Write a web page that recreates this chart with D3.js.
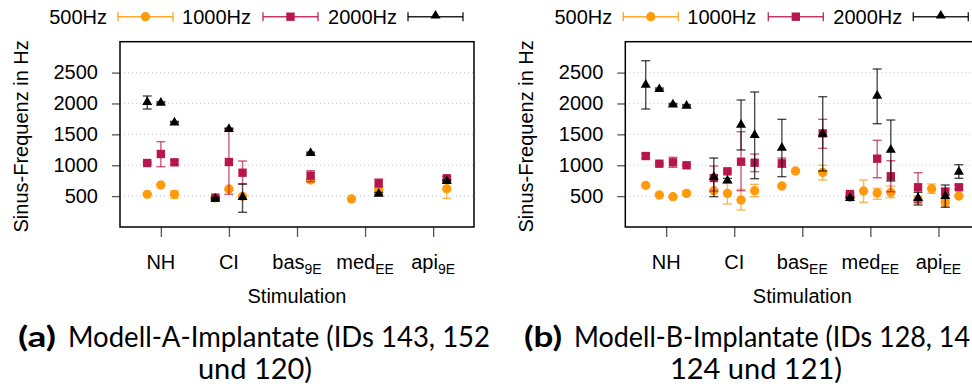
<!DOCTYPE html>
<html>
<head>
<meta charset="utf-8">
<script src="https://cdn.jsdelivr.net/npm/d3@7"></script>
<style>
  body { margin: 0; background: #fff; }
  svg { display: block; font-family: "Liberation Sans", Arial, sans-serif; }
</style>
</head>
<body>
<svg id="chart" width="972" height="390"></svg>
<script>
// values: [mean, lower, upper] per category, per implant (null = no data)
const catsA = [["NH", ""], ["CI", ""], ["bas", "9E"], ["med", "EE"], ["api", "9E"]];
const catsB = [["NH", ""], ["CI", ""], ["bas", "EE"], ["med", "EE"], ["api", "EE"]];
const yTicks = [500, 1000, 1500, 2000, 2500];
const seriesNames = ["500Hz", "1000Hz", "2000Hz"];
const seriesColors = ["#ff9a0a", "#b8154a", "#000000"];

const a500 = [
  [[529, 512, 546], [680, 666, 694], [529, 465, 583]],
  [[470, 458, 482], [615, 602, 628], [497, 482, 512]],
  [null, null, [760, 742, 778]],
  [[453, 441, 465], null, [595, 560, 630]],
  [null, null, [620, 465, 707]]
];
const a1000 = [
  [[1036, 1018, 1054], [1182, 976, 1381], [1047, 1010, 1085]],
  [[475, 458, 492], [1052, 529, 1592], [879, 696, 1068]],
  [null, null, [831, 734, 912]],
  [null, null, [707, 652, 777]],
  [null, null, [788, 765, 812]]
];
const a2000 = [
  [[2030, 1910, 2121], [2019, 2008, 2030], [1700, 1690, 1710]],
  [[465, 452, 478], [1592, 1582, 1602], [491, 238, 696]],
  [null, null, [1203, 1193, 1213]],
  [null, null, [545, 530, 560]],
  [null, null, [750, 738, 762]]
];

const b500 = [
  [[675, 662, 688], [518, 506, 530], [491, 479, 503], [545, 515, 575]],
  [[588, 560, 615], [545, 372, 707], [437, 275, 610], [588, 491, 691]],
  [[664, 640, 690], [907, 895, 919], null, [885, 761, 999]],
  [[480, 470, 490], [583, 400, 761], [550, 448, 626], [561, 475, 664]],
  [[440, 380, 500], [620, 545, 696], [400, 340, 448], [502, 490, 515]]
];
const b1000 = [
  [[1149, 1110, 1190], [1025, 1008, 1042], [1047, 966, 1128], [999, 982, 1016]],
  [[793, 583, 987], [901, 882, 920], [1057, 588, 1543], [1041, 896, 1182]],
  [[1031, 966, 1117], null, null, [1516, 1274, 1743]],
  [[534, 517, 551], null, [1106, 798, 1404], [821, 571, 1073]],
  [[643, 400, 879], null, [572, 520, 625], [643, 610, 680]]
];
const b2000 = [
  [[2310, 1910, 2692], [2239, 2228, 2250], [1991, 1980, 2002], [1970, 1959, 1981]],
  [[815, 491, 1117], [761, 728, 787], [1662, 1247, 2056], [1495, 782, 2186]],
  [[1290, 815, 1743], null, null, [1516, 907, 2110]],
  [[475, 465, 485], null, [2132, 1672, 2558], [1258, 745, 1732]],
  [[475, 356, 561], null, [507, 319, 680], [900, 788, 1009]]
];

const panels = [
  {x0: 120, cats: catsA, series: [a500, a1000, a2000], nImp: 3,
   cap1: "Modell-A-Implantate (IDs 143, 152", cap1b: "(a)", cap2: "und 120)", capX: 18, capW: 472, cap2X: 255},
  {x0: 625.3, cats: catsB, series: [b500, b1000, b2000], nImp: 4,
   cap1: "Modell-B-Implantate (IDs 128, 14", cap1b: "(b)", cap2: "124 und 121)", capX: 524, capW: 446, cap2X: 756}
];

const svg = d3.select("#chart");
const W = 354, yTop = 41.7, yBottom = 227;
const symbols = [d3.symbolCircle, d3.symbolSquare, d3.symbolTriangle];
const symSizes = [68, 70, 44];
const baseFont = "'Liberation Sans', Arial, sans-serif";

panels.forEach(p => {
  const g = svg.append("g");
  const x = d3.scaleLinear().domain([0.4, 5.6]).range([p.x0, p.x0 + W]);
  const y = d3.scaleLinear().domain([0, 3000]).range([yBottom, yTop]);

  // grid
  g.append("g").selectAll("line").data(yTicks).enter().append("line")
    .attr("x1", p.x0).attr("x2", p.x0 + W)
    .attr("y1", d => y(d)).attr("y2", d => y(d))
    .attr("stroke", "#c8c8c8").attr("stroke-width", 1)
    .attr("stroke-dasharray", "1,3");

  // axes
  const ya = g.append("g").attr("transform", `translate(${p.x0},0)`)
    .call(d3.axisLeft(y).tickValues(yTicks).tickSize(8).tickPadding(14).tickFormat(d3.format("d")));
  ya.select(".domain").remove();
  ya.selectAll(".tick line").attr("stroke", "#555").attr("stroke-width", 1.3);
  ya.selectAll(".tick text").attr("font-size", 20).attr("fill", "#000")
    .attr("font-family", baseFont);

  const xa = g.append("g").attr("transform", `translate(0,${yBottom})`)
    .call(d3.axisBottom(x).tickValues([1, 2, 3, 4, 5]).tickSize(10).tickFormat(""));
  xa.select(".domain").remove();
  xa.selectAll(".tick line").attr("stroke", "#555").attr("stroke-width", 1.3);

  p.cats.forEach((c, i) => {
    const t = g.append("text").attr("x", x(i + 1)).attr("y", 269)
      .attr("text-anchor", "middle").attr("font-size", 20).attr("font-family", baseFont);
    t.append("tspan").text(c[0]);
    if (c[1]) t.append("tspan").attr("font-size", 14).attr("dy", 5).text(c[1]);
  });

  g.append("text").attr("x", p.x0 + W / 2).attr("y", 303)
    .attr("text-anchor", "middle").attr("font-size", 20).attr("font-family", baseFont).text("Stimulation");
  g.append("text")
    .attr("transform", `translate(${p.x0 - 92},${(yTop + yBottom) / 2 + 2}) rotate(-90)`)
    .attr("text-anchor", "middle").attr("font-size", 20).attr("font-family", baseFont)
    .text("Sinus-Frequenz in Hz");

  // data
  const off = i => (i - (p.nImp - 1) / 2) * 0.2;
  p.series.forEach((s, si) => {
    const pts = [];
    s.forEach((row, ci) => row.forEach((v, ii) => {
      if (v) pts.push({x: ci + 1 + off(ii), v: v[0], lo: v[1], hi: v[2]});
    }));
    const sg = g.append("g");
    const eb = sg.append("g").attr("stroke", seriesColors[si])
      .attr("stroke-width", 1.4).attr("stroke-opacity", 0.7);
    eb.selectAll("line.v").data(pts).enter().append("line").attr("class", "v")
      .attr("x1", d => x(d.x)).attr("x2", d => x(d.x))
      .attr("y1", d => y(d.lo)).attr("y2", d => y(d.hi));
    ["lo", "hi"].forEach(k => {
      eb.selectAll("line." + k).data(pts).enter().append("line").attr("class", k)
        .attr("x1", d => x(d.x) - 4.5).attr("x2", d => x(d.x) + 4.5)
        .attr("y1", d => y(d[k])).attr("y2", d => y(d[k]));
    });
    sg.selectAll("path").data(pts).enter().append("path")
      .attr("d", d3.symbol().type(symbols[si]).size(symSizes[si]))
      .attr("transform", d => `translate(${x(d.x)},${y(d.v) + (si === 2 ? 0.5 : 0)})`)
      .attr("fill", seriesColors[si]);
  });

  // frame
  g.append("rect").attr("x", p.x0).attr("y", yTop).attr("width", W).attr("height", yBottom - yTop)
    .attr("fill", "none").attr("stroke", "#000").attr("stroke-width", 1.5);

  // legend
  const lx = p.x0 - 120;
  const legTextEnd = [107, 251, 397];
  const legSample = [118, 263, 408];
  seriesNames.forEach((n, si) => {
    g.append("text").attr("x", lx + legTextEnd[si]).attr("y", 24).attr("font-family", baseFont)
      .attr("text-anchor", "end").attr("font-size", 20).text(n);
    const sx = lx + legSample[si], ly = 16.7;
    const lg = g.append("g").attr("stroke", seriesColors[si]).attr("stroke-width", 1.4).attr("stroke-opacity", 0.85);
    lg.append("line").attr("x1", sx).attr("x2", sx + 55).attr("y1", ly).attr("y2", ly);
    lg.append("line").attr("x1", sx).attr("x2", sx).attr("y1", ly - 4.5).attr("y2", ly + 4.5);
    lg.append("line").attr("x1", sx + 55).attr("x2", sx + 55).attr("y1", ly - 4.5).attr("y2", ly + 4.5);
    g.append("path").attr("d", d3.symbol().type(symbols[si]).size(symSizes[si])())
      .attr("transform", `translate(${sx + 27.5},${ly + (si === 2 ? -1 : 0)})`)
      .attr("fill", seriesColors[si]);
  });

  // caption
  const capFont = "Lato, 'Open Sans', sans-serif";
  g.append("text").attr("x", p.capX).attr("y", 347).attr("font-size", 29)
    .attr("font-family", capFont).attr("font-weight", "bold")
    .attr("textLength", 38).attr("lengthAdjust", "spacingAndGlyphs").text(p.cap1b);
  g.append("text").attr("x", p.capX + 50).attr("y", 347).attr("font-size", 29)
    .attr("font-family", capFont)
    .attr("textLength", p.capW - 50).attr("lengthAdjust", "spacingAndGlyphs").text(p.cap1);
  g.append("text").attr("x", p.cap2X).attr("y", 379).attr("font-size", 29)
    .attr("font-family", capFont).attr("text-anchor", "middle").text(p.cap2);
});
</script>
</body>
</html>
